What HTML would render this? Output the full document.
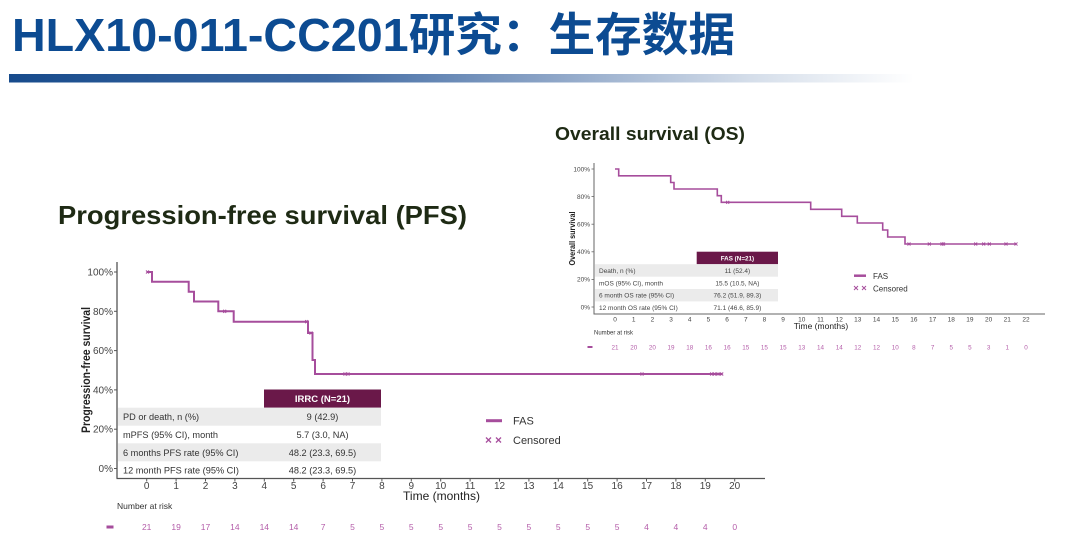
<!DOCTYPE html>
<html><head><meta charset="utf-8"><style>
html,body{margin:0;padding:0;background:#fff;}
svg{display:block;}
text{font-family:"Liberation Sans","Noto Sans CJK SC",sans-serif;}
</style></head><body>
<svg width="1080" height="559" viewBox="0 0 1080 559" xmlns="http://www.w3.org/2000/svg">
<defs>
<linearGradient id="bar" x1="0" x2="1" y1="0" y2="0">
<stop offset="0" stop-color="#174b8c"/>
<stop offset="0.35" stop-color="#3f6aa3"/>
<stop offset="0.6" stop-color="#8da5c7"/>
<stop offset="0.82" stop-color="#d5deea"/>
<stop offset="1" stop-color="#ffffff"/>
</linearGradient>
</defs>
<rect width="1080" height="559" fill="#fff"/>
<!-- Title -->
<text x="12" y="51" font-size="46" font-weight="bold" fill="#0c4b92" textLength="723" lengthAdjust="spacingAndGlyphs">HLX10-011-CC201研究：生存数据</text>
<rect x="9" y="74" width="905" height="8.5" fill="url(#bar)"/>

<!-- PFS title -->
<text x="58" y="224" font-size="26" font-weight="bold" fill="#1e2a14" textLength="409" lengthAdjust="spacingAndGlyphs">Progression-free survival (PFS)</text>
<!-- OS title -->
<text x="555" y="140" font-size="18.5" font-weight="bold" fill="#1e2a14" textLength="190" lengthAdjust="spacingAndGlyphs">Overall survival (OS)</text>

<!-- ================= PFS chart ================= -->
<g>
<line x1="117" y1="262" x2="117" y2="478.5" stroke="#555" stroke-width="1.3"/>
<line x1="116.5" y1="478.5" x2="765" y2="478.5" stroke="#555" stroke-width="1.3"/>
<g stroke="#555" stroke-width="1">
<line x1="114" y1="272" x2="117" y2="272"/><line x1="114" y1="311.3" x2="117" y2="311.3"/>
<line x1="114" y1="350.6" x2="117" y2="350.6"/><line x1="114" y1="389.9" x2="117" y2="389.9"/>
<line x1="114" y1="429.2" x2="117" y2="429.2"/><line x1="114" y1="468.5" x2="117" y2="468.5"/>
</g>
<g font-size="10" fill="#444" text-anchor="end">
<text x="113" y="275.5">100%</text><text x="113" y="314.8">80%</text><text x="113" y="354.1">60%</text>
<text x="113" y="393.4">40%</text><text x="113" y="432.7">20%</text><text x="113" y="472">0%</text>
</g>
<text transform="translate(90,370) rotate(-90)" text-anchor="middle" font-size="12" font-weight="bold" fill="#222" textLength="126" lengthAdjust="spacingAndGlyphs">Progression-free survival</text>
<g stroke="#555" stroke-width="1">
<line x1="146.7" y1="478.5" x2="146.7" y2="481.5"/><line x1="176.1" y1="478.5" x2="176.1" y2="481.5"/>
<line x1="205.5" y1="478.5" x2="205.5" y2="481.5"/><line x1="234.9" y1="478.5" x2="234.9" y2="481.5"/>
<line x1="264.3" y1="478.5" x2="264.3" y2="481.5"/><line x1="293.7" y1="478.5" x2="293.7" y2="481.5"/>
<line x1="323.1" y1="478.5" x2="323.1" y2="481.5"/><line x1="352.5" y1="478.5" x2="352.5" y2="481.5"/>
<line x1="381.9" y1="478.5" x2="381.9" y2="481.5"/><line x1="411.3" y1="478.5" x2="411.3" y2="481.5"/>
<line x1="440.7" y1="478.5" x2="440.7" y2="481.5"/><line x1="470.1" y1="478.5" x2="470.1" y2="481.5"/>
<line x1="499.5" y1="478.5" x2="499.5" y2="481.5"/><line x1="528.9" y1="478.5" x2="528.9" y2="481.5"/>
<line x1="558.3" y1="478.5" x2="558.3" y2="481.5"/><line x1="587.7" y1="478.5" x2="587.7" y2="481.5"/>
<line x1="617.1" y1="478.5" x2="617.1" y2="481.5"/><line x1="646.5" y1="478.5" x2="646.5" y2="481.5"/>
<line x1="675.9" y1="478.5" x2="675.9" y2="481.5"/><line x1="705.3" y1="478.5" x2="705.3" y2="481.5"/>
<line x1="734.7" y1="478.5" x2="734.7" y2="481.5"/>
</g>
<g font-size="10" fill="#444" text-anchor="middle">
<text x="146.7" y="489">0</text><text x="176.1" y="489">1</text><text x="205.5" y="489">2</text><text x="234.9" y="489">3</text>
<text x="264.3" y="489">4</text><text x="293.7" y="489">5</text><text x="323.1" y="489">6</text><text x="352.5" y="489">7</text>
<text x="381.9" y="489">8</text><text x="411.3" y="489">9</text><text x="440.7" y="489">10</text><text x="470.1" y="489">11</text>
<text x="499.5" y="489">12</text><text x="528.9" y="489">13</text><text x="558.3" y="489">14</text><text x="587.7" y="489">15</text>
<text x="617.1" y="489">16</text><text x="646.5" y="489">17</text><text x="675.9" y="489">18</text><text x="705.3" y="489">19</text>
<text x="734.7" y="489">20</text>
</g>
<text x="441.5" y="500" font-size="12" fill="#222" text-anchor="middle">Time (months)</text>
<text x="117" y="509" font-size="8.5" fill="#333">Number at risk</text>
<rect x="106.5" y="525.5" width="7" height="3" fill="#a64d9c"/>
<g font-size="8.5" fill="#b45da9" text-anchor="middle">
<text x="146.7" y="530">21</text><text x="176.1" y="530">19</text><text x="205.5" y="530">17</text><text x="234.9" y="530">14</text>
<text x="264.3" y="530">14</text><text x="293.7" y="530">14</text><text x="323.1" y="530">7</text><text x="352.5" y="530">5</text>
<text x="381.9" y="530">5</text><text x="411.3" y="530">5</text><text x="440.7" y="530">5</text><text x="470.1" y="530">5</text>
<text x="499.5" y="530">5</text><text x="528.9" y="530">5</text><text x="558.3" y="530">5</text><text x="587.7" y="530">5</text>
<text x="617.1" y="530">5</text><text x="646.5" y="530">4</text><text x="675.9" y="530">4</text><text x="705.3" y="530">4</text>
<text x="734.7" y="530">0</text>
</g>
<!-- PFS curve -->
<path d="M147,272 H152 V281.7 H188.7 V291.8 H194 V301.5 H218.3 V311.2 H233.7 V321.7 H308 V333 H312.5 V360 H315 V374 H722" fill="none" stroke="#a64d9c" stroke-width="2"/>
<g stroke="#a64d9c" stroke-width="1.1">
<path d="M146,270.5l3,3M149,270.5l-3,3"/>
<path d="M223.2,309.8l3,3M226.2,309.8l-3,3"/>
<path d="M305.2,320.2l3,3M308.2,320.2l-3,3"/>
<path d="M309.5,331.5l3,3M312.5,331.5l-3,3"/>
<path d="M343.5,372.5l3,3M346.5,372.5l-3,3"/>
<path d="M346.5,372.5l3,3M349.5,372.5l-3,3"/>
<path d="M640.5,372.5l3,3M643.5,372.5l-3,3"/>
<path d="M710.2,372.5l3,3M713.2,372.5l-3,3"/>
<path d="M713.2,372.5l3,3M716.2,372.5l-3,3"/>
<path d="M716.5,372.5l3,3M719.5,372.5l-3,3"/>
<path d="M720.2,372.5l3,3M723.2,372.5l-3,3"/>
</g>
<!-- PFS table -->
<rect x="264" y="389.5" width="117" height="18.2" fill="#6a1849"/>
<text x="322.5" y="402" font-size="9.5" font-weight="bold" fill="#fff" text-anchor="middle">IRRC (N=21)</text>
<rect x="118" y="407.7" width="263" height="18" fill="#ebebeb"/>
<rect x="118" y="443.3" width="263" height="18" fill="#ebebeb"/>
<g font-size="9.2" fill="#333">
<text x="123" y="420">PD or death, n (%)</text>
<text x="123" y="438">mPFS (95% CI), month</text>
<text x="123" y="456">6 months PFS rate (95% CI)</text>
<text x="123" y="473.5">12 month PFS rate (95% CI)</text>
</g>
<g font-size="9.2" fill="#333" text-anchor="middle">
<text x="322.5" y="420">9 (42.9)</text>
<text x="322.5" y="438">5.7 (3.0, NA)</text>
<text x="322.5" y="456">48.2 (23.3, 69.5)</text>
<text x="322.5" y="473.5">48.2 (23.3, 69.5)</text>
</g>
<!-- PFS legend -->
<line x1="486" y1="420.7" x2="502" y2="420.7" stroke="#a64d9c" stroke-width="3"/>
<text x="513" y="424.7" font-size="11" fill="#333">FAS</text>
<g stroke="#a64d9c" stroke-width="1.3">
<path d="M486,437.5l5,5M491,437.5l-5,5M496,437.5l5,5M501,437.5l-5,5"/>
</g>
<text x="513" y="444" font-size="11" fill="#333">Censored</text>
</g>

<!-- ================= OS chart ================= -->
<g>
<line x1="594" y1="163" x2="594" y2="314" stroke="#666" stroke-width="1"/>
<line x1="593.5" y1="314" x2="1045" y2="314" stroke="#666" stroke-width="1"/>
<g stroke="#666" stroke-width="0.8">
<line x1="591.5" y1="169" x2="594" y2="169"/><line x1="591.5" y1="196.6" x2="594" y2="196.6"/>
<line x1="591.5" y1="224.2" x2="594" y2="224.2"/><line x1="591.5" y1="251.8" x2="594" y2="251.8"/>
<line x1="591.5" y1="279.4" x2="594" y2="279.4"/><line x1="591.5" y1="307" x2="594" y2="307"/>
</g>
<g font-size="6.5" fill="#444" text-anchor="end">
<text x="590" y="171.3">100%</text><text x="590" y="198.9">80%</text><text x="590" y="226.5">60%</text>
<text x="590" y="254.1">40%</text><text x="590" y="281.7">20%</text><text x="590" y="309.3">0%</text>
</g>
<text transform="translate(575,238.5) rotate(-90)" text-anchor="middle" font-size="8" font-weight="bold" fill="#222" textLength="54" lengthAdjust="spacingAndGlyphs">Overall survival</text>
<g font-size="6.5" fill="#444" text-anchor="middle">
<text x="615" y="321.5">0</text><text x="633.7" y="321.5">1</text><text x="652.4" y="321.5">2</text><text x="671" y="321.5">3</text>
<text x="689.7" y="321.5">4</text><text x="708.4" y="321.5">5</text><text x="727.1" y="321.5">6</text><text x="745.8" y="321.5">7</text>
<text x="764.4" y="321.5">8</text><text x="783.1" y="321.5">9</text><text x="801.8" y="321.5">10</text><text x="820.5" y="321.5">11</text>
<text x="839.2" y="321.5">12</text><text x="857.8" y="321.5">13</text><text x="876.5" y="321.5">14</text><text x="895.2" y="321.5">15</text>
<text x="913.9" y="321.5">16</text><text x="932.6" y="321.5">17</text><text x="951.2" y="321.5">18</text><text x="969.9" y="321.5">19</text>
<text x="988.6" y="321.5">20</text><text x="1007.3" y="321.5">21</text><text x="1026" y="321.5">22</text>
</g>
<text x="821" y="329" font-size="8.5" fill="#222" text-anchor="middle">Time (months)</text>
<text x="594" y="334.5" font-size="6" fill="#333">Number at risk</text>
<rect x="587.5" y="346" width="5" height="2" fill="#a64d9c"/>
<g font-size="6.3" fill="#b45da9" text-anchor="middle">
<text x="615" y="349.5">21</text><text x="633.7" y="349.5">20</text><text x="652.4" y="349.5">20</text><text x="671" y="349.5">19</text>
<text x="689.7" y="349.5">18</text><text x="708.4" y="349.5">16</text><text x="727.1" y="349.5">16</text><text x="745.8" y="349.5">15</text>
<text x="764.4" y="349.5">15</text><text x="783.1" y="349.5">15</text><text x="801.8" y="349.5">13</text><text x="820.5" y="349.5">14</text>
<text x="839.2" y="349.5">14</text><text x="857.8" y="349.5">12</text><text x="876.5" y="349.5">12</text><text x="895.2" y="349.5">10</text>
<text x="913.9" y="349.5">8</text><text x="932.6" y="349.5">7</text><text x="951.2" y="349.5">5</text><text x="969.9" y="349.5">5</text>
<text x="988.6" y="349.5">3</text><text x="1007.3" y="349.5">1</text><text x="1026" y="349.5">0</text>
</g>
<!-- OS curve -->
<path d="M615,169 H618.7 V175.8 H670.7 V182.5 H674 V189 H717.3 V195.7 H721.3 V202.3 H810.7 V209.3 H841.7 V216.3 H857.3 V223 H882.7 V230 H887.7 V237 H905 V244 H1016" fill="none" stroke="#a64d9c" stroke-width="1.6"/>
<g stroke="#a64d9c" stroke-width="0.9">
<path d="M726.2,200.8l3,3M729.2,200.8l-3,3"/>
<path d="M907.5,242.5l3,3M910.5,242.5l-3,3"/>
<path d="M927.8,242.5l3,3M930.8,242.5l-3,3"/>
<path d="M940.5,242.5l3,3M943.5,242.5l-3,3"/>
<path d="M942,242.5l3,3M945,242.5l-3,3"/>
<path d="M974.2,242.5l3,3M977.2,242.5l-3,3"/>
<path d="M982.2,242.5l3,3M985.2,242.5l-3,3"/>
<path d="M987.8,242.5l3,3M990.8,242.5l-3,3"/>
<path d="M1004.5,242.5l3,3M1007.5,242.5l-3,3"/>
<path d="M1014.5,242.5l3,3M1017.5,242.5l-3,3"/>
</g>
<!-- OS table -->
<rect x="696.7" y="251.7" width="81.3" height="12.5" fill="#6a1849"/>
<text x="737.4" y="260.3" font-size="6.3" font-weight="bold" fill="#fff" text-anchor="middle">FAS (N=21)</text>
<rect x="595" y="264.2" width="183" height="12.5" fill="#ebebeb"/>
<rect x="595" y="289" width="183" height="12.4" fill="#ebebeb"/>
<g font-size="6.5" fill="#444">
<text x="599" y="272.8">Death, n (%)</text>
<text x="599" y="285.3">mOS (95% CI), month</text>
<text x="599" y="297.6">6 month OS rate (95% CI)</text>
<text x="599" y="309.8">12 month OS rate (95% CI)</text>
</g>
<g font-size="6.5" fill="#444" text-anchor="middle">
<text x="737.4" y="272.8">11 (52.4)</text>
<text x="737.4" y="285.3">15.5 (10.5, NA)</text>
<text x="737.4" y="297.6">76.2 (51.9, 89.3)</text>
<text x="737.4" y="309.8">71.1 (46.6, 85.9)</text>
</g>
<!-- OS legend -->
<line x1="854" y1="275.7" x2="866" y2="275.7" stroke="#a64d9c" stroke-width="2.5"/>
<text x="873" y="279" font-size="8" fill="#333">FAS</text>
<g stroke="#a64d9c" stroke-width="1">
<path d="M854,286l4,4M858,286l-4,4M862,286l4,4M866,286l-4,4"/>
</g>
<text x="873" y="291.5" font-size="8" fill="#333">Censored</text>
</g>
</svg>
</body></html>
